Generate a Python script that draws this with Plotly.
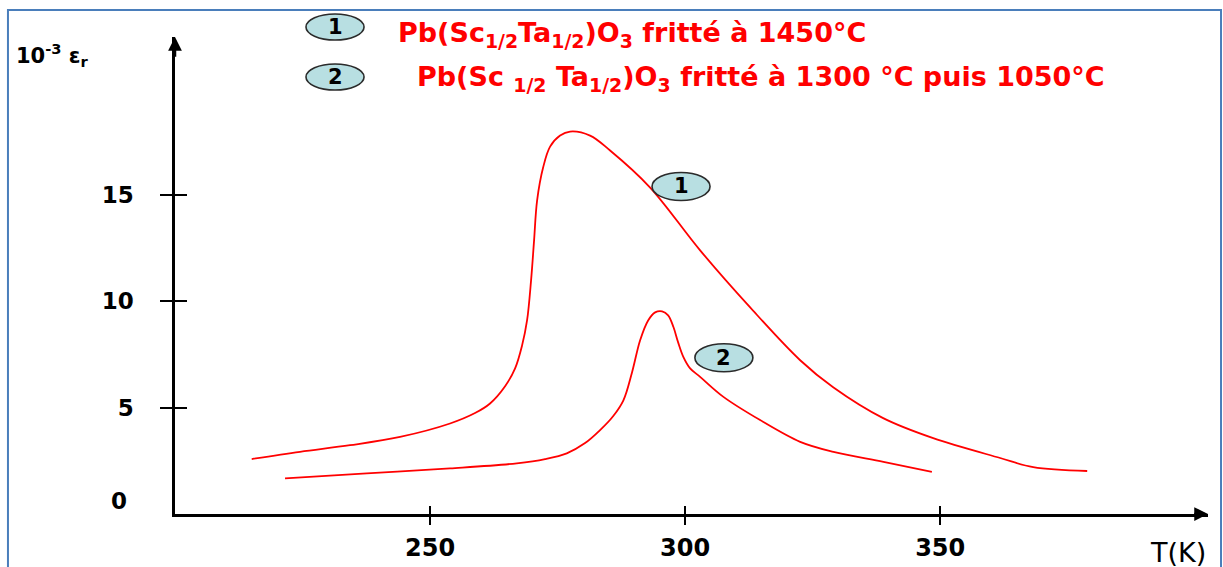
import plotly.graph_objects as go

# ---- data ----
T1 = [215.04, 224.51, 234.31, 244.12, 253.92, 258.82, 261.76, 264.71, 266.67, 268.04, 269.02,
      269.80, 270.39, 270.98, 272.16, 273.53, 275.49, 277.45, 281.37, 285.29, 293.14, 302.94,
      312.75, 322.55, 329.02, 338.82, 348.63, 361.76, 368.24, 378.82]
eps1 = [2.58, 2.92, 3.23, 3.62, 4.25, 4.74, 5.19, 6.00, 6.84, 7.92, 9.10,
        10.97, 12.85, 14.72, 16.27, 17.25, 17.77, 17.96, 17.77, 17.07, 15.33, 12.38,
        9.70, 7.22, 5.95, 4.50, 3.56, 2.63, 2.20, 2.02]

T2 = [221.57, 237.59, 253.92, 267.0, 272.55, 276.8, 280.39, 283.33, 285.88, 287.9, 289.6,
      291.18, 292.75, 294.12, 295.49, 296.67, 297.71, 298.63, 299.67, 300.98, 302.94, 307.51,
      314.7, 322.55, 329.08, 338.88, 348.37]
eps2 = [1.67, 1.91, 2.14, 2.38, 2.58, 2.85, 3.33, 3.94, 4.59, 5.34, 6.66,
        8.16, 9.09, 9.47, 9.52, 9.33, 8.78, 8.06, 7.37, 6.84, 6.44, 5.50,
        4.41, 3.39, 2.92, 2.45, 1.98]

x_ticks = [250, 300, 350]
y_ticks = [5, 10, 15]
x_range = [200, 402.5]
y_range = [0, 22.4]

label1_pos = (299.2, 15.38)
label2_pos = (307.6, 7.34)

legend_texts = [
    "Pb(Sc<sub>1/2</sub>Ta<sub>1/2</sub>)O<sub>3</sub> fritté à 1450°C",
    "Pb(Sc <sub>1/2</sub> Ta<sub>1/2</sub>)O<sub>3</sub> fritté à 1300 °C puis 1050°C",
]

RED = "#FF0000"
FONT = "DejaVu Sans"
ELL_FILL = "#B8DFE2"
ELL_LINE = "#2B2B2B"

fig = go.Figure()
fig.add_trace(go.Scatter(x=T1, y=eps1, mode="lines",
                         line=dict(color=RED, width=1.8, shape="spline", smoothing=1.0),
                         hoverinfo="skip"))
fig.add_trace(go.Scatter(x=T2, y=eps2, mode="lines",
                         line=dict(color=RED, width=1.8, shape="spline", smoothing=1.0),
                         hoverinfo="skip"))
# empty trace to activate the overlay axes (inside halves of the ticks)
fig.add_trace(go.Scatter(x=[], y=[], xaxis="x2", yaxis="y2", hoverinfo="skip"))

axis_common = dict(showgrid=False, zeroline=False, linecolor="black", tickcolor="black", automargin=False)

fig.update_layout(
    width=1223, height=567,
    margin=dict(l=175, r=15, t=37, b=53, autoexpand=False),
    paper_bgcolor="white", plot_bgcolor="white",
    showlegend=False,
    xaxis=dict(range=x_range, tickvals=x_ticks, ticks="outside", ticklen=8, tickwidth=1.5,
               showline=True, linewidth=2.5, ticklabelstandoff=2,
               tickfont=dict(family=FONT, size=24, color="black", weight="bold"), **axis_common),
    yaxis=dict(range=y_range, tickvals=y_ticks, ticks="outside", ticklen=12, tickwidth=1.5,
               showline=True, linewidth=2.5, ticklabelstandoff=22,
               tickfont=dict(family=FONT, size=23, color="black", weight="bold"), **axis_common),
    xaxis2=dict(range=x_range, tickvals=x_ticks, ticks="inside", ticklen=8, tickwidth=1.5,
                overlaying="x", side="bottom", anchor="y", showticklabels=False, showline=False,
                **axis_common),
    yaxis2=dict(range=y_range, tickvals=y_ticks, ticks="inside", ticklen=12, tickwidth=1.5,
                overlaying="y", side="left", anchor="x", showticklabels=False, showline=False,
                **axis_common),
)

shapes = []
# outer blue frame
shapes.append(dict(type="rect", xref="paper", yref="paper", x0=-0.1617, x1=1.0126, y0=-0.14, y1=1.0566,
                   line=dict(color="#4A7EBB", width=2), fillcolor="rgba(0,0,0,0)", layer="below"))
# legend ellipses
for (y0, y1) in [(0.9937, 1.0482), (0.8889, 0.9434)]:
    shapes.append(dict(type="circle", xref="paper", yref="paper", x0=0.1268, x1=0.1830, y0=y0, y1=y1,
                       line=dict(color=ELL_LINE, width=1.6), fillcolor=ELL_FILL))
# curve label ellipses
for (tx, ey) in [label1_pos, label2_pos]:
    shapes.append(dict(type="circle", xref="x", yref="y", xsizemode="pixel", ysizemode="pixel",
                       xanchor=tx, yanchor=ey, x0=-29, x1=29, y0=-14, y1=14,
                       line=dict(color=ELL_LINE, width=1.6), fillcolor=ELL_FILL))
fig.update_layout(shapes=shapes)

ann = []
# axis arrowheads
ann.append(dict(x=x_range[1], y=0, xref="x", yref="y", ax=x_range[1] - 3, ay=0, axref="x", ayref="y",
                showarrow=True, arrowhead=2, arrowsize=1.1, arrowwidth=2.5, arrowcolor="black", text=""))
ann.append(dict(x=x_range[0], y=y_range[1], xref="x", yref="y", ax=x_range[0], ay=y_range[1] - 1,
                axref="x", ayref="y", showarrow=True, arrowhead=2, arrowsize=1.1, arrowwidth=2.5,
                arrowcolor="black", text=""))
# zero label
ann.append(dict(x=-0.054, y=0, xref="paper", yref="y", yshift=13, text="0", showarrow=False,
                xanchor="center", yanchor="middle",
                font=dict(family=FONT, size=23, color="black", weight="bold")))
# axis titles
ann.append(dict(x=-0.156, y=0.962, xref="paper", yref="paper", text="10<sup>-3</sup> ε<sub>r</sub>",
                showarrow=False, xanchor="left", yanchor="middle",
                font=dict(family=FONT, size=21, color="black", weight="bold")))
ann.append(dict(x=0.971, y=-0.08, xref="paper", yref="paper", text="T(K)", showarrow=False,
                xanchor="center", yanchor="middle", font=dict(family=FONT, size=27, color="black")))
# legend texts
ann.append(dict(x=0.214, y=1.006, xref="paper", yref="paper", text=legend_texts[0], showarrow=False,
                xanchor="left", yanchor="middle", font=dict(family=FONT, size=27, color=RED, weight="bold")))
ann.append(dict(x=0.232, y=0.914, xref="paper", yref="paper", text=legend_texts[1], showarrow=False,
                xanchor="left", yanchor="middle", font=dict(family=FONT, size=27, color=RED, weight="bold")))
# legend numbers
for (yy, num) in [(1.021, "1"), (0.9161, "2")]:
    ann.append(dict(x=0.1549, y=yy, xref="paper", yref="paper", text=num, showarrow=False,
                    xanchor="center", yanchor="middle",
                    font=dict(family=FONT, size=21, color="black", weight="bold")))
# curve numbers
for (pos, num) in [(label1_pos, "1"), (label2_pos, "2")]:
    ann.append(dict(x=pos[0], y=pos[1], xref="x", yref="y", text=num, showarrow=False,
                    xanchor="center", yanchor="middle",
                    font=dict(family=FONT, size=21, color="black", weight="bold")))
fig.update_layout(annotations=ann)

fig.write_html("out.html")
